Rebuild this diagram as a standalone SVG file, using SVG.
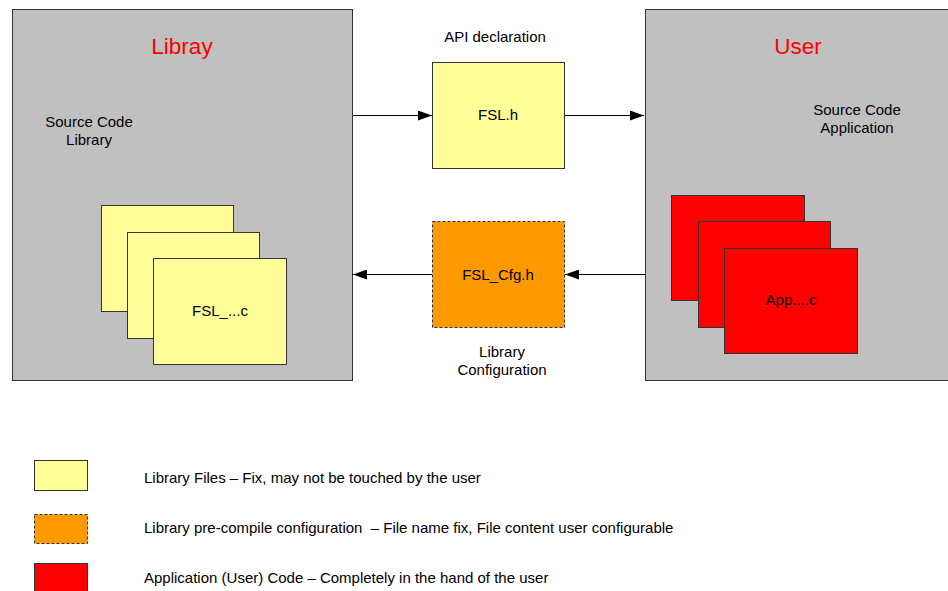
<svg xmlns="http://www.w3.org/2000/svg" width="948" height="591" viewBox="0 0 948 591">
<style>
text{font-family:"Liberation Sans",Arial,sans-serif;fill:#000}
.t{font-size:15px}
.title{font-size:22.5px;fill:#FF0000}
.mid{text-anchor:middle}
.pre{white-space:pre}
.panel{fill:#C0C0C0;stroke:#333;stroke-width:1}
.lib{fill:#FFFF99;stroke:#333;stroke-width:1}
.cfg{fill:#FF9900;stroke:#333;stroke-width:1;stroke-dasharray:3,2}
.app{fill:#FF0000;stroke:#333;stroke-width:1}
.con{stroke:#000;stroke-width:1;fill:none;marker-end:url(#ah)}
</style>
<defs>
<marker id="ah" markerWidth="14" markerHeight="10" refX="14" refY="5" orient="auto" markerUnits="userSpaceOnUse">
<path d="M0,0 L14,5 L0,10 Z" fill="#000"/>
</marker>
</defs>
<rect width="948" height="591" fill="#fff"/>
<g id="library">
<rect class="panel" x="12.5" y="9.5" width="340" height="371"/>
<text class="title mid" x="182" y="54">Libray</text>
<text class="t mid" x="89" y="127">Source Code</text>
<text class="t mid" x="89" y="145">Library</text>
</g>
<g id="lib-files">
<rect class="lib" x="101.5" y="205.5" width="132" height="106"/>
<rect class="lib" x="127.5" y="232.5" width="132" height="106"/>
<rect class="lib" x="153.5" y="258.5" width="133" height="106"/>
<text class="t mid" x="220" y="316">FSL_...c</text>
</g>
<g id="user">
<rect class="panel" x="645.5" y="9.5" width="310" height="371"/>
<text class="title mid" x="798" y="54">User</text>
<text class="t mid" x="857" y="115">Source Code</text>
<text class="t mid" x="857" y="133">Application</text>
</g>
<g id="app-files">
<rect class="app" x="671.5" y="195.5" width="133" height="105"/>
<rect class="app" x="698.5" y="221.5" width="132" height="106"/>
<rect class="app" x="724.5" y="248.5" width="133" height="105"/>
<text class="t mid" x="791" y="305">App....c</text>
</g>
<g id="fsl-h">
<text class="t mid" x="495" y="42">API declaration</text>
<rect class="lib" x="432.5" y="62.5" width="132" height="106"/>
<text class="t mid" x="498" y="120">FSL.h</text>
</g>
<g id="fsl-cfg">
<rect class="cfg" x="432.5" y="221.5" width="132" height="106"/>
<text class="t mid" x="498" y="280">FSL_Cfg.h</text>
<text class="t mid" x="502" y="357">Library</text>
<text class="t mid" x="502" y="375">Configuration</text>
</g>
<g id="connectors">
<line class="con" x1="353" y1="115.5" x2="432" y2="115.5"/>
<line class="con" x1="565" y1="115.5" x2="644" y2="115.5"/>
<line class="con" x1="645" y1="274.5" x2="565" y2="274.5"/>
<line class="con" x1="432" y1="274.5" x2="353" y2="274.5"/>
</g>
<g id="legend">
<rect class="lib" x="34.5" y="460.5" width="53" height="30"/>
<text class="t" x="144" y="483">Library Files – Fix, may not be touched by the user</text>
<rect class="cfg" x="34.5" y="514.5" width="53" height="29"/>
<text class="t pre" x="144" y="533">Library pre-compile configuration  – File name fix, File content user configurable</text>
<rect class="app" x="34.5" y="563.5" width="53" height="29"/>
<text class="t" x="144" y="583">Application (User) Code – Completely in the hand of the user</text>
</g>
</svg>
